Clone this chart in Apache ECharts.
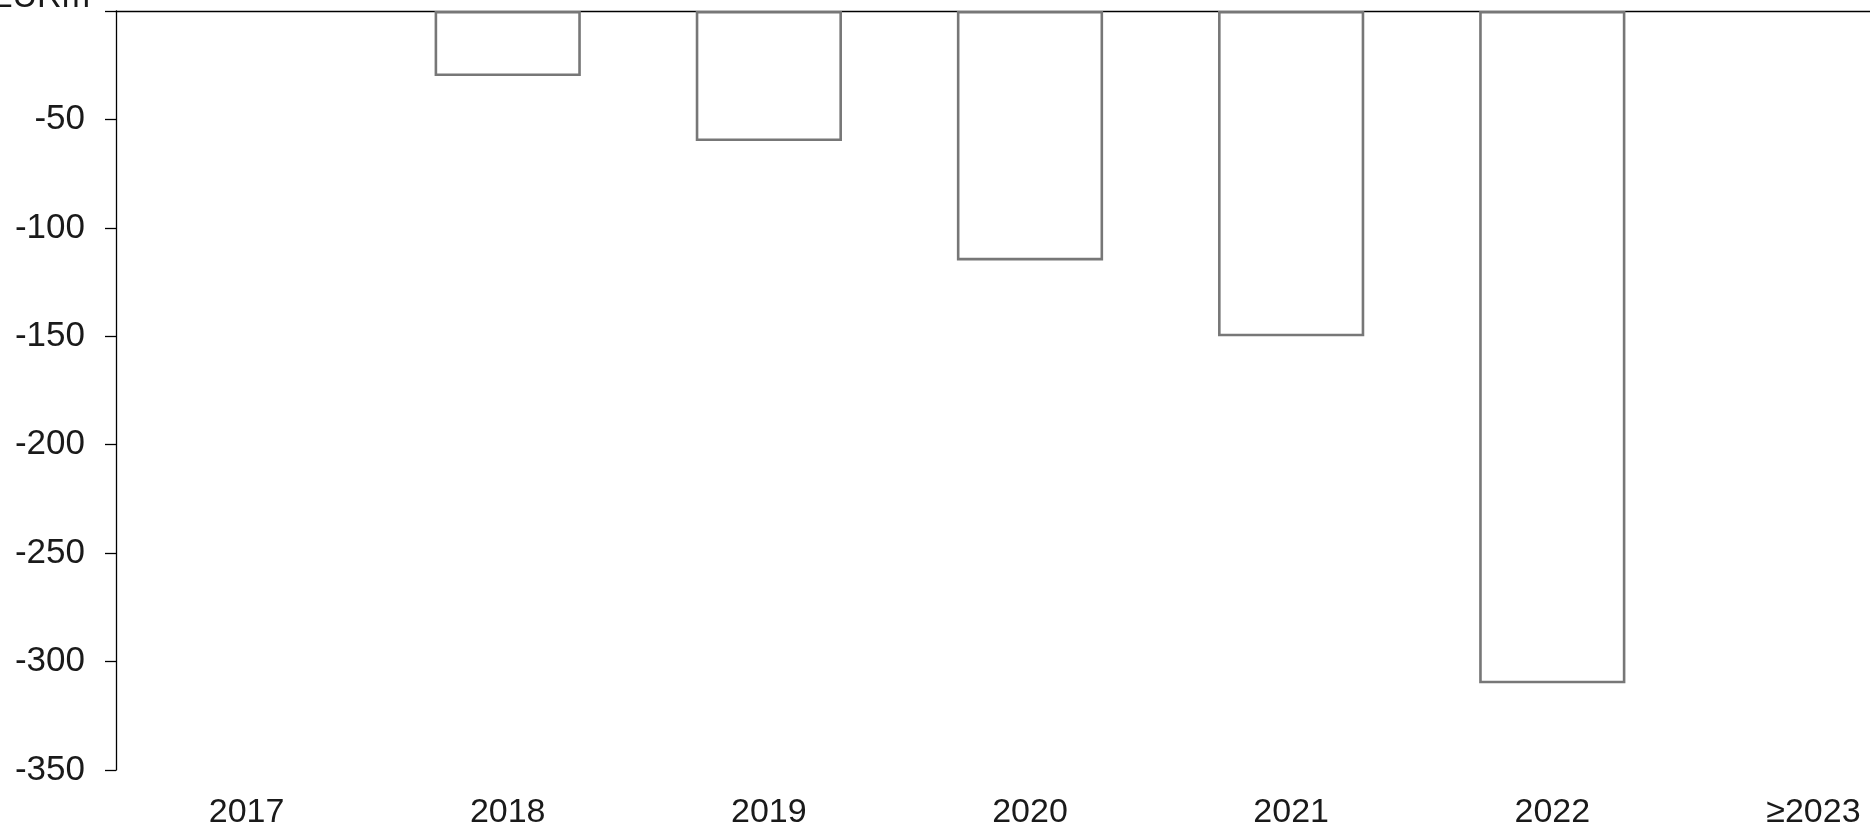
<!DOCTYPE html>
<html>
<head>
<meta charset="utf-8">
<script src="https://cdn.jsdelivr.net/npm/echarts@6/dist/echarts.min.js"></script>
<style>
html,body{margin:0;padding:0;background:#fff;}
#chart{width:1870px;height:833px;}
</style>
</head>
<body>
<div id="chart"></div>
<script>
const categories = ['2017', '2018', '2019', '2020', '2021', '2022', '≥2023'];
const values = [null, -30, -60, -115, -150, -310, null];
const yTicks = { min: -350, max: 0, interval: 50 };
const unitLabel = 'EURm';

const chart = echarts.init(document.getElementById('chart'));
const font = 'Liberation Sans, Arial, sans-serif';
chart.setOption({
  animation: false,
  backgroundColor: '#ffffff',
  grid: { left: 116, right: -74, top: 11, bottom: 63, containLabel: false, outerBoundsMode: 'none' },
  xAxis: [
    {
      type: 'category',
      data: categories,
      position: 'bottom',
      axisLine: { show: false, onZero: false },
      axisTick: { show: false },
      axisLabel: { color: '#1a1a1a', fontSize: 34, fontFamily: font, margin: 26 },
      splitLine: { show: false }
    },
    {
      type: 'category',
      data: categories,
      position: 'top',
      axisLine: { show: true, onZero: false, lineStyle: { color: '#000', width: 1.3 } },
      axisTick: { show: false },
      axisLabel: { show: false },
      splitLine: { show: false }
    }
  ],
  yAxis: {
    type: 'value',
    min: yTicks.min,
    max: yTicks.max,
    interval: yTicks.interval,
    name: unitLabel,
    nameLocation: 'end',
    nameGap: -4,
    nameTextStyle: { color: '#1a1a1a', fontSize: 34, fontFamily: font, align: 'right', verticalAlign: 'bottom', padding: [0, 26, 0, 0] },
    axisLine: { show: true, lineStyle: { color: '#000', width: 1.3 } },
    axisTick: { show: true, length: 11, lineStyle: { color: '#000', width: 1.3 } },
    axisLabel: {
      color: '#1a1a1a', fontSize: 35, fontFamily: font, margin: 31,
      formatter: v => (v === 0 ? '' : String(v))
    },
    splitLine: { show: false }
  },
  series: [{
    type: 'bar',
    xAxisIndex: 0,
    data: values,
    barWidth: '56%',
    itemStyle: { color: '#ffffff', borderColor: '#777777', borderWidth: 2.6 }
  }]
});
</script>
</body>
</html>
